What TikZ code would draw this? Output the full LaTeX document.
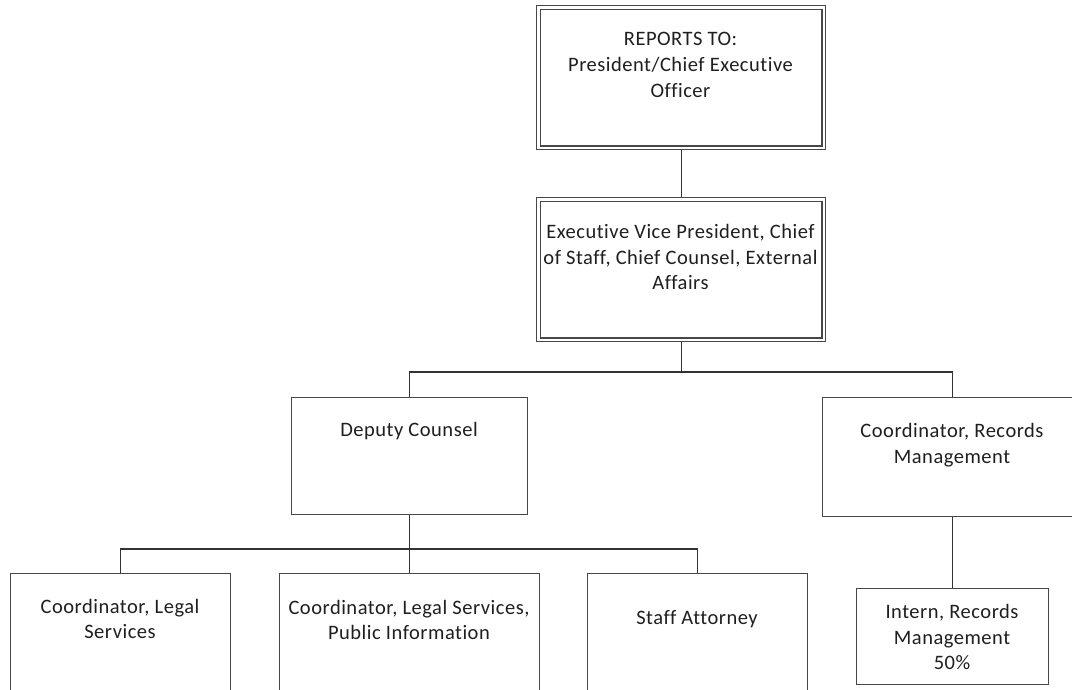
\documentclass[tikz,border=0pt]{standalone}
\usepackage{fontspec}
\setmainfont[LetterSpace=2.5,RawFeature={-liga;-clig;-calt;-dlig}]{Carlito}
\begin{document}
\begin{tikzpicture}[x=1pt,y=-1pt,
  box/.style={draw=black!72, line width=1.4pt, fill=white, inner sep=0pt,
              anchor=north west, rectangle},
  edge/.style={draw=black!80, line width=1.3pt},
  lbl/.style={align=center, inner sep=0pt, text=black!88,
              font=\fontsize{20.5}{25.8}\selectfont}
]
\useasboundingbox (0,0) rectangle (1072,689);
\clip (0,0) rectangle (1072,689);

% boxes
\node[box, minimum width=289pt, minimum height=144pt] (top) at (536,5) {};
\draw[black!72, line width=1.4pt] ([shift={(4.5,4.5)}]top.north west) rectangle ([shift={(-4.5,-4.5)}]top.south east);
\node[box, minimum width=289pt, minimum height=144pt] (evp) at (536,197) {};
\draw[black!72, line width=1.4pt] ([shift={(4.5,4.5)}]evp.north west) rectangle ([shift={(-4.5,-4.5)}]evp.south east);
\node[box, minimum width=236pt, minimum height=117pt] (dep) at (291,397) {};
\node[box, minimum width=260pt, minimum height=119pt] (crm) at (822,397) {};
\node[box, minimum width=220pt, minimum height=140pt] (cls) at (10,573) {};
\node[box, minimum width=260pt, minimum height=140pt] (clp) at (279,573) {};
\node[box, minimum width=220pt, minimum height=140pt] (sa) at (587,573) {};
\node[box, minimum width=192pt, minimum height=96pt] (intern) at (856,588) {};

% connectors
\coordinate (busA) at (0,372);
\coordinate (busB) at (0,549);
\draw[edge] (top.south) -- (evp.north);
\draw[edge] (evp.south) -- (evp.south |- busA);
\draw[edge] (dep.north) |- (busA -| crm.north) -- (crm.north);
\draw[edge] (dep.south) -- (clp.north);
\draw[edge] (cls.north) |- (busB -| sa.north) -- (sa.north);
\draw[edge] (crm.south) -- (intern.north);

% labels
\node[lbl] (ttop) at (680.5,65) {REPORTS TO:\\President/Chief Executive\\Officer};
\node[lbl] (tevp) at (680.5,257) {Executive Vice President, Chief\\of Staff, Chief Counsel, External\\Affairs};
\node[lbl] (tdep) at (409,431) {Deputy Counsel};
\node[lbl] (tcrm) at (952,445) {Coordinator, Records\\Management};
\node[lbl] (tcls) at (120,619) {Coordinator, Legal\\Services};
\node[lbl] (tclp) at (409,620) {Coordinator, Legal Services,\\Public Information};
\node[lbl] (tsa) at (697,619) {Staff Attorney};
\node[lbl] (tint) at (952,637) {Intern, Records\\Management\\50\%};
\end{tikzpicture}
\end{document}
